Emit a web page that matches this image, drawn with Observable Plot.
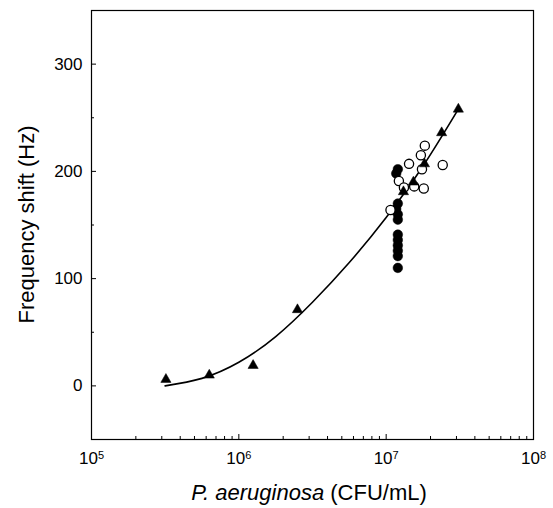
<!DOCTYPE html>
<html>
<head>
<meta charset="utf-8">
<script src="https://cdn.jsdelivr.net/npm/d3@7"></script>
<script src="https://cdn.jsdelivr.net/npm/@observablehq/plot@0.6"></script>
<style>
  html, body { margin: 0; padding: 0; background: #fff; }
  #chart svg { display: block; }
</style>
</head>
<body>
<div id="chart"></div>
<script>
// ---- data ----
const triX = [3.2e5, 6.3e5, 1.25e6, 2.5e6, 1.31e7, 1.53e7, 1.82e7, 2.38e7, 3.09e7];
const triY = [6, 10, 19, 71, 181, 190, 207, 236, 258];

const openX = [1.07e7, 1.22e7, 1.32e7, 1.43e7, 1.55e7, 1.72e7, 1.83e7, 1.80e7, 1.75e7, 2.42e7];
const openY = [164, 191, 185, 207, 186, 215, 224, 184, 202, 206];

const fillX = [1.2e7, 1.17e7, 1.2e7, 1.17e7, 1.2e7, 1.2e7, 1.2e7, 1.2e7, 1.2e7, 1.2e7, 1.2e7, 1.2e7];
const fillY = [202, 198, 170, 165, 160, 155, 141, 136, 131, 126, 121, 110];

// fitted curve at quarter-decade steps
const fitX = [3.16e5, 5.62e5, 1e6, 1.78e6, 3.16e6, 5.62e6, 1e7, 1.78e7, 3.09e7];
const fitY = [0, 7, 22, 46, 78, 115, 157, 205, 258];

const xMajor = [1e5, 1e6, 1e7, 1e8];
const xMinor = [2e5,3e5,4e5,5e5,6e5,7e5,8e5,9e5, 2e6,3e6,4e6,5e6,6e6,7e6,8e6,9e6, 2e7,3e7,4e7,5e7,6e7,7e7,8e7,9e7];
const yMajor = [0, 100, 200, 300];
const yMinor = [-50, 50, 150, 250, 350];

const xLabelItalic = "P. aeruginosa";
const xLabelRest = " (CFU/mL)";
const yLabel = "Frequency shift (Hz)";

// ---- layout ----
const W = 553, H = 508;
const mL = 91, mR = 20, mT = 10, mB = 69;
const plotW = W - mL - mR, plotH = H - mT - mB;

const tri = triX.map((x, i) => ({x, y: triY[i]}));
const open = openX.map((x, i) => ({x, y: openY[i]}));
const fill = fillX.map((x, i) => ({x, y: fillY[i]}));
const fit = fitX.map((x, i) => ({x, y: fitY[i]}));

const chart = Plot.plot({
  width: W, height: H,
  marginLeft: mL, marginRight: mR, marginTop: mT, marginBottom: mB,
  style: {fontFamily: "'Liberation Sans', Arial, sans-serif", fontSize: "17px", color: "black", background: "white"},
  x: {type: "log", domain: [1e5, 1e8]},
  y: {domain: [-50, 350]},
  marks: [
    Plot.tickX(xMajor, {x: d => d, insetTop: plotH - 5, stroke: "black", strokeWidth: 1}),
    Plot.tickX(xMinor, {x: d => d, insetTop: plotH - 3, stroke: "black", strokeWidth: 1}),
    Plot.tickY(yMajor, {y: d => d, insetRight: plotW - 5, stroke: "black", strokeWidth: 1}),
    Plot.tickY(yMinor, {y: d => d, insetRight: plotW - 3, stroke: "black", strokeWidth: 1}),
    Plot.axisX(xMajor, {tickSize: 0, tickPadding: 12, label: null, fontSize: 17,
      tickFormat: d => "10^" + Math.round(Math.log10(d))}),
    Plot.axisY(yMajor, {tickSize: 0, tickPadding: 9, label: null, fontSize: 17}),
    Plot.line(fit, {x: "x", y: "y", curve: "natural", stroke: "black", strokeWidth: 1.6}),
    Plot.dot(fill, {x: "x", y: "y", r: 4.8, fill: "black", stroke: "black", strokeWidth: 0.5}),
    Plot.dot(open, {x: "x", y: "y", r: 4.6, fill: "white", stroke: "black", strokeWidth: 1.3}),
    Plot.dot(tri, {x: "x", y: "y", r: 3.8, symbol: "triangle", fill: "black", stroke: "black", strokeWidth: 0.5}),
    Plot.frame({stroke: "black", strokeWidth: 1.2})
  ]
});

document.getElementById("chart").appendChild(chart);

// superscript exponents on x tick labels
const svg = d3.select(chart);
svg.selectAll('g[aria-label="x-axis tick label"] text').each(function() {
  const t = d3.select(this);
  const s = t.text();
  const parts = s.split("^");
  if (parts.length !== 2) return;
  t.text(null);
  t.append("tspan").text(parts[0]);
  t.append("tspan").attr("dy", "-0.45em").attr("font-size", "11px").text(parts[1]);
});

// axis titles
svg.append("text")
  .attr("x", (mL + W - mR) / 2 - 3)
  .attr("y", 500)
  .attr("text-anchor", "middle")
  .attr("font-size", 22)
  .attr("font-family", "'Liberation Sans', Arial, sans-serif")
  .attr("fill", "black")
  .call(t => {
    t.append("tspan").attr("font-style", "italic").text(xLabelItalic);
    t.append("tspan").text(xLabelRest);
  });

svg.append("text")
  .attr("transform", `translate(34,${(mT + H - mB) / 2}) rotate(-90)`)
  .attr("text-anchor", "middle")
  .attr("font-size", 22)
  .attr("font-family", "'Liberation Sans', Arial, sans-serif")
  .attr("fill", "black")
  .text(yLabel);
</script>
</body>
</html>
